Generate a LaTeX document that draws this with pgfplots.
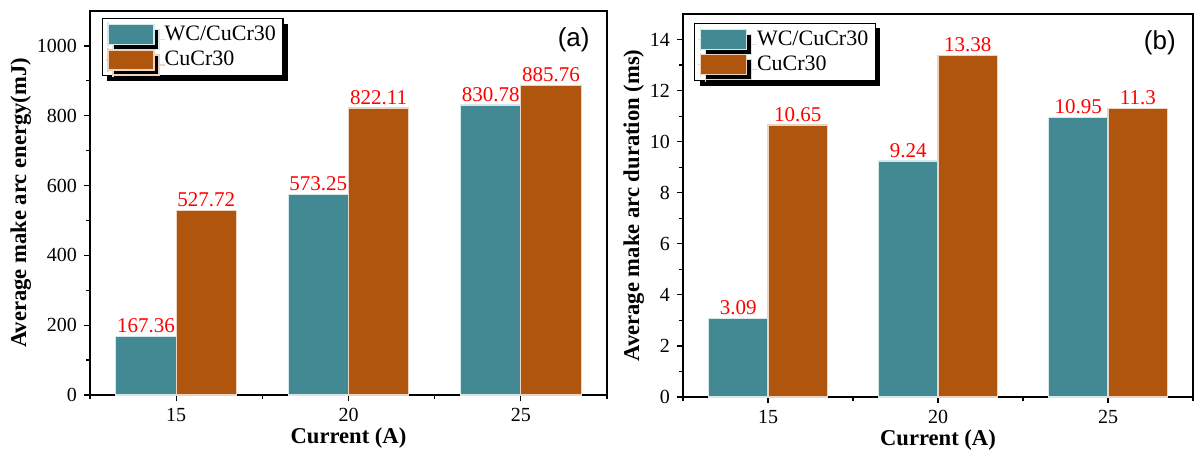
\documentclass[border=0pt]{standalone}
\usepackage{fontspec}
\setmainfont{Liberation Serif}
\newfontfamily\arialfont{Liberation Sans}
\usepackage{pgfplots}
\pgfplotsset{compat=1.18}
\usetikzlibrary{shadows}
\definecolor{cteal}{RGB}{66,137,148}
\definecolor{corange}{RGB}{175,85,13}
\definecolor{eteal}{RGB}{215,232,234}
\definecolor{eorange}{RGB}{236,212,194}
\pgfplotsset{
  mybar/.style={
    scale only axis,
    xmin=12.5, xmax=27.5, ymin=0,
    xtick={15,20,25},
    minor xtick={12.5,17.5,22.5,27.5},
    tick align=outside, xtick pos=bottom, ytick pos=left,
    major tick length=3pt, minor tick length=1.8pt,
    axis line style={line width=0.6pt},
    every tick/.style={black, line width=0.6pt},
    ticklabel style={font=\fontsize{10}{12}\selectfont},
    /pgf/number format/assume math mode=true,
    /pgf/number format/1000 sep={},
    label style={font=\fontsize{11.3}{13}\selectfont\bfseries},
    xlabel={Current (A)},
    xlabel style={yshift=3.5pt},
    ylabel shift=-4pt,
    legend cell align=left,
    legend image code/.code={\path (-1pt,0pt) -- (26pt,0pt);\path (0pt,-6pt) -- (0pt,6pt);\draw[##1] (0pt,-5pt) rectangle (23pt,5pt);},
    legend style={anchor=north west, draw=black, line width=0.6pt,
      font=\fontsize{11}{13}\selectfont, inner sep=1.5pt, row sep=0pt,
      general shadow={fill=black, shadow xshift=2.5pt, shadow yshift=-2.5pt}},
    nodes near coords, point meta=explicit symbolic,
    every node near coord/.append style={red, font=\fontsize{10.5}{12}\selectfont, inner sep=1.5pt},
  },
  wcbar/.style={ybar, bar width=1.75, bar shift=0, fill=cteal, draw=eteal, line width=0.6pt},
  cubar/.style={ybar, bar width=1.75, bar shift=0, fill=corange, draw=eorange, line width=0.6pt},
}
\begin{document}
\begin{tikzpicture}
\path[use as bounding box] (0,0) rectangle (598.5pt,225pt);
\begin{axis}[mybar,
  at={(45pt,27.5pt)}, anchor=south west,
  width=258.5pt, height=192pt,
  ymax=1100, ytick={0,200,400,600,800,1000},
  minor ytick={100,300,500,700,900},
  ylabel={Average make arc energy(mJ)},
  legend style={at={(0.023,0.982)}},
]
% WC/CuCr30 bars centred at current - 0.875, CuCr30 at current + 0.875
\addplot[wcbar] coordinates {(14.125,167.36) [167.36] (19.125,573.25) [573.25] (24.125,830.78) [830.78]};
\addplot[cubar] coordinates {(15.875,527.72) [527.72] (20.875,822.11) [822.11] (25.875,885.76) [885.76]};
\legend{WC/CuCr30, CuCr30}
\node[font=\arialfont\fontsize{13}{15}\selectfont, anchor=north east] at (rel axis cs:0.98,0.975) {(a)};
\end{axis}
\begin{axis}[mybar,
  at={(341.5pt,26.5pt)}, anchor=south west,
  width=255pt, height=191.5pt,
  ymax=15, ytick={0,2,4,6,8,10,12,14},
  minor ytick={1,3,5,7,9,11,13},
  ylabel={Average make arc duration (ms)},
  legend style={at={(0.022,0.977)}},
]
\addplot[wcbar] coordinates {(14.125,3.09) [3.09] (19.125,9.24) [9.24] (24.125,10.95) [10.95]};
\addplot[cubar] coordinates {(15.875,10.65) [10.65] (20.875,13.38) [13.38] (25.875,11.3) [11.3]};
\legend{WC/CuCr30, CuCr30}
\node[font=\arialfont\fontsize{13}{15}\selectfont, anchor=north east] at (rel axis cs:0.98,0.975) {(b)};
\end{axis}
\end{tikzpicture}
\end{document}
